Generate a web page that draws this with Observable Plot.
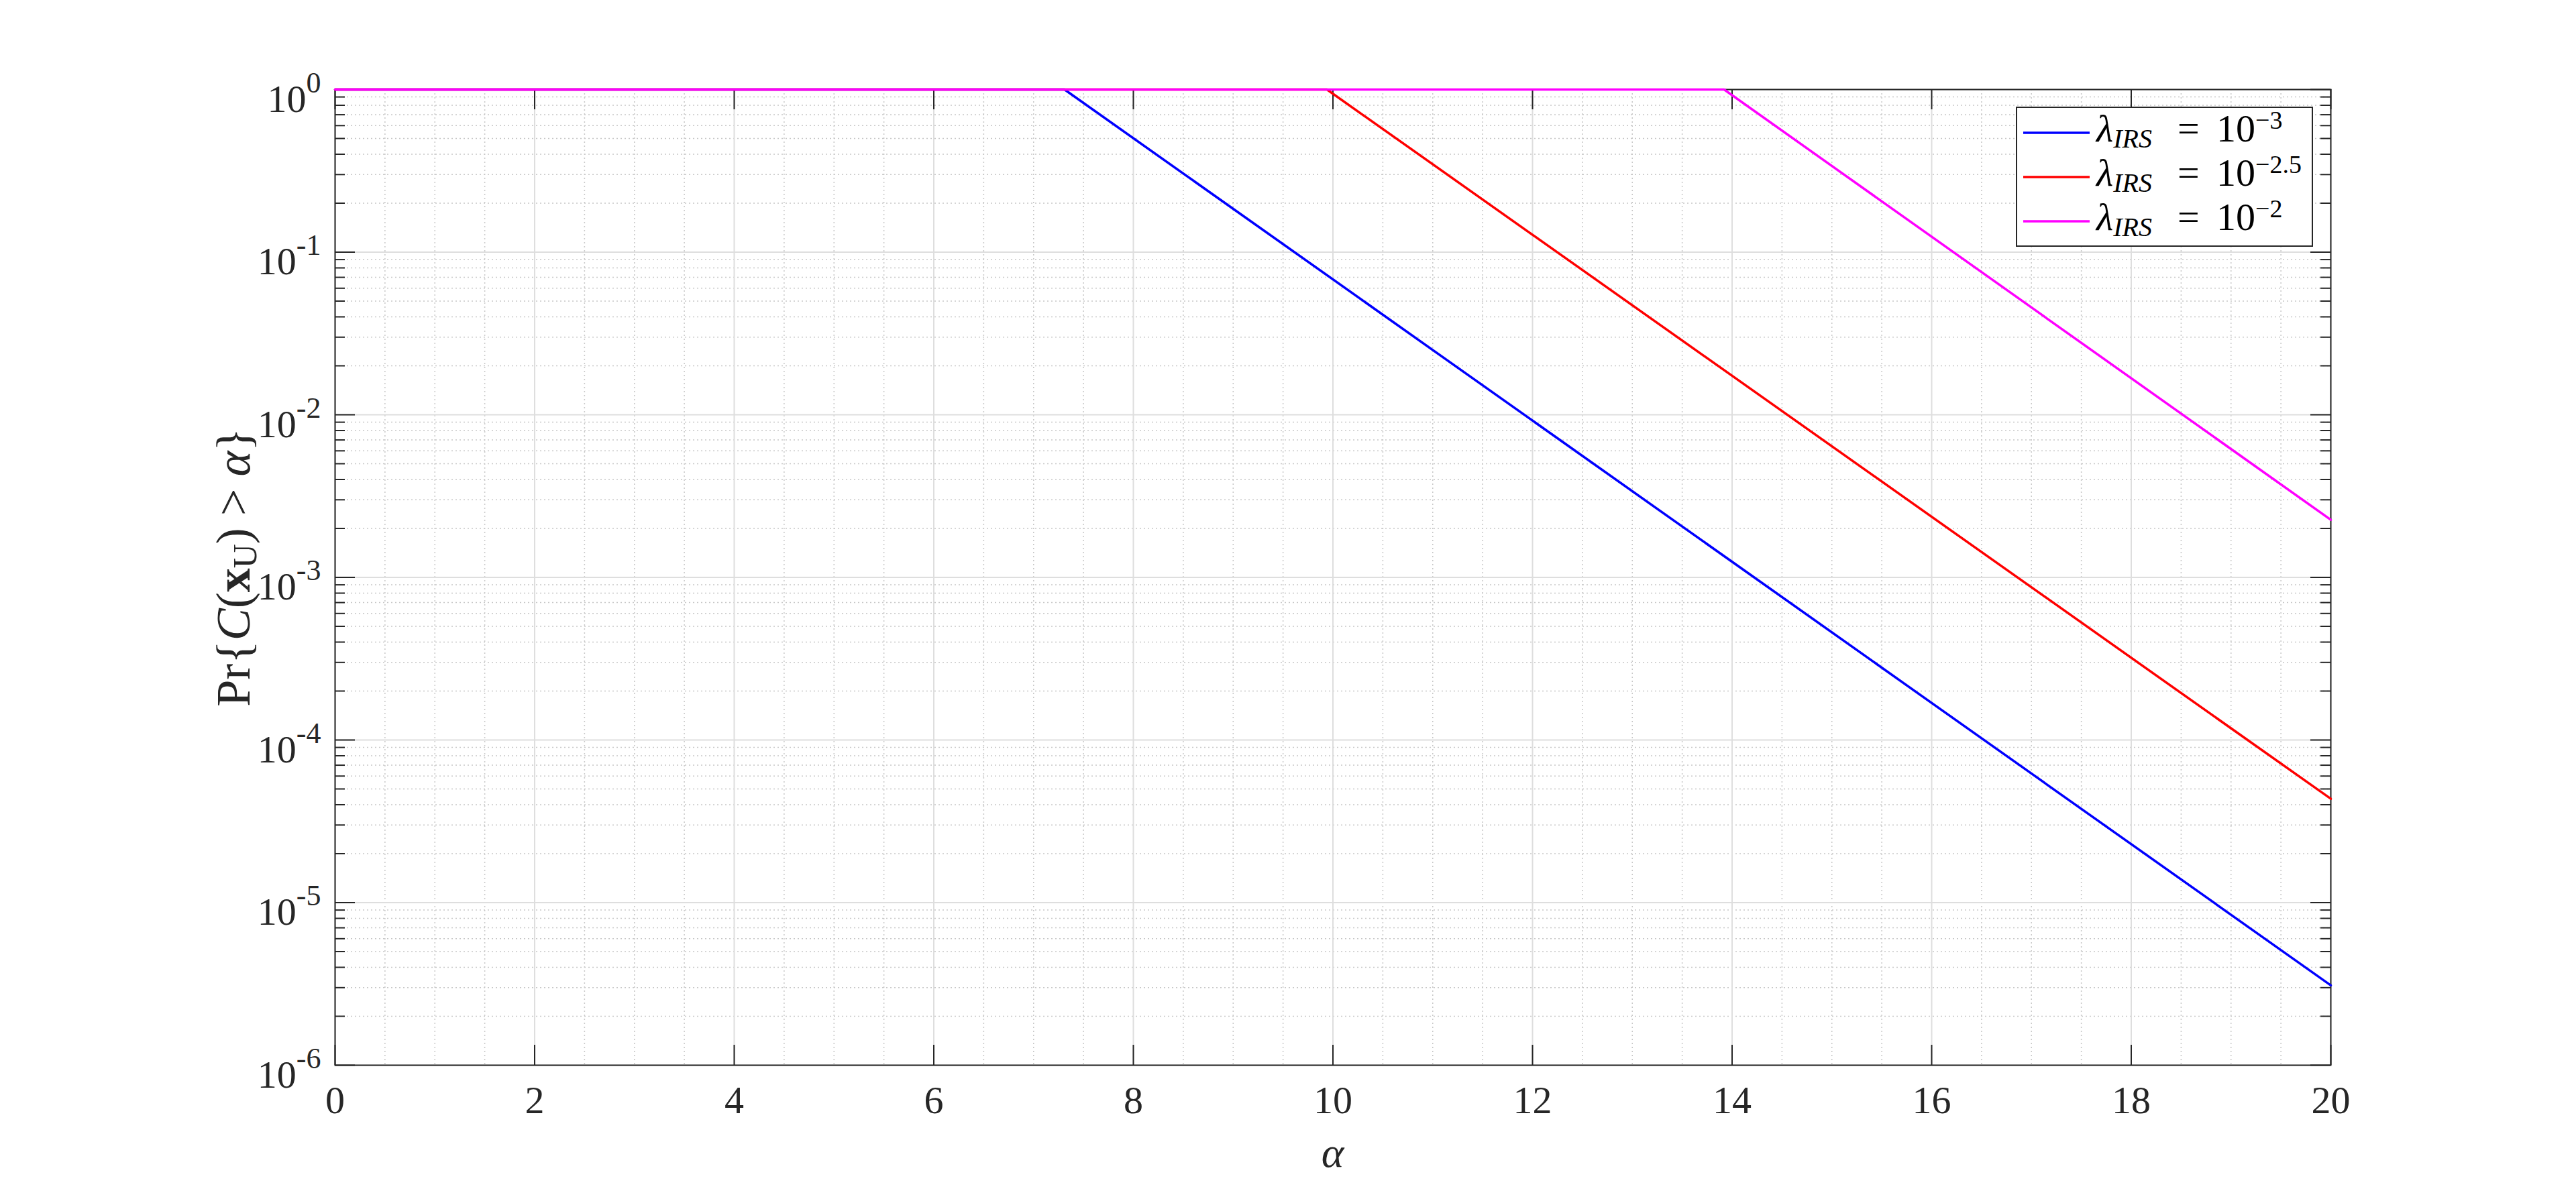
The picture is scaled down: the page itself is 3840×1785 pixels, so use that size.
<!DOCTYPE html>
<html>
<head>
<meta charset="utf-8">
<script src="https://cdn.jsdelivr.net/npm/d3@7"></script>
<script src="https://cdn.jsdelivr.net/npm/@observablehq/plot@0.6"></script>
<style>
  html, body { margin: 0; padding: 0; background: #ffffff; }
  #chart { position: relative; width: 3840px; height: 1785px; }
</style>
</head>
<body>
<div id="chart"></div>
<script>
// ---- data ----
const seriesNames = ["-3", "-2.5", "-2"];           // exponent of lambda_IRS
const seriesColors = ["#0000ff", "#ff0000", "#ff00ff"];
const blueAlpha = [0, 7.31, 20];
const blueProb = [1, 1, 3.1e-6];
const redAlpha = [0, 9.94, 20];
const redProb = [1, 1, 4.35e-5];
const magentaAlpha = [0, 13.92, 20];
const magentaProb = [1, 1, 2.26e-3];

// ---- ticks ----
const xMajorTicks = [0, 2, 4, 6, 8, 10, 12, 14, 16, 18, 20];
const xMinorGrid = [0.5, 1, 1.5, 2.5, 3, 3.5, 4.5, 5, 5.5, 6.5, 7, 7.5, 8.5, 9, 9.5,
  10.5, 11, 11.5, 12.5, 13, 13.5, 14.5, 15, 15.5, 16.5, 17, 17.5, 18.5, 19, 19.5];
const yMajorTicks = [1e-6, 1e-5, 1e-4, 1e-3, 1e-2, 1e-1, 1];
const yMinorMultipliers = [2, 3, 4, 5, 6, 7, 8, 9];
const yMinorTicks = yMajorTicks.slice(0, -1).flatMap(d => yMinorMultipliers.map(m => m * d));

const alphas = [blueAlpha, redAlpha, magentaAlpha];
const probs = [blueProb, redProb, magentaProb];
const rows = seriesNames.flatMap((name, i) =>
  alphas[i].map((a, j) => ({series: name, alpha: a, prob: probs[i][j]})));

// ---- layout ----
const W = 3840, H = 1785;
const mL = 499, mR = W - 3474, mT = 133, mB = H - 1588;
const plotW = W - mL - mR, plotH = H - mT - mB;
const axisColor = "#262626";
const serif = "'Liberation Serif', 'Times New Roman', serif";

const chart = Plot.plot({
  width: W, height: H,
  marginLeft: mL, marginRight: mR, marginTop: mT, marginBottom: mB,
  style: {fontFamily: serif, background: "#ffffff", color: axisColor},
  x: {domain: [0, 20]},
  y: {type: "log", domain: [1e-6, 1]},
  color: {domain: seriesNames, range: seriesColors},
  marks: [
    // minor grid (dotted)
    Plot.ruleX(xMinorGrid, {x: d => d, stroke: "#c8c8c8", strokeWidth: 1.5, strokeDasharray: "2,4"}),
    Plot.ruleY(yMinorTicks, {y: d => d, stroke: "#c8c8c8", strokeWidth: 1.5, strokeDasharray: "2,4"}),
    // major grid (solid)
    Plot.ruleX(xMajorTicks, {x: d => d, stroke: "#dedede", strokeWidth: 2}),
    Plot.ruleY(yMajorTicks, {y: d => d, stroke: "#dedede", strokeWidth: 2}),
    // inward ticks
    Plot.tickX(xMajorTicks, {x: d => d, insetTop: plotH - 30, stroke: axisColor, strokeWidth: 2}),
    Plot.tickX(xMajorTicks, {x: d => d, insetBottom: plotH - 30, stroke: axisColor, strokeWidth: 2}),
    Plot.tickY(yMajorTicks, {y: d => d, insetRight: plotW - 30, stroke: axisColor, strokeWidth: 2}),
    Plot.tickY(yMajorTicks, {y: d => d, insetLeft: plotW - 30, stroke: axisColor, strokeWidth: 2}),
    Plot.tickY(yMinorTicks, {y: d => d, insetRight: plotW - 15, stroke: axisColor, strokeWidth: 2}),
    Plot.tickY(yMinorTicks, {y: d => d, insetLeft: plotW - 15, stroke: axisColor, strokeWidth: 2}),
    Plot.frame({stroke: axisColor, strokeWidth: 2}),
    // axes labels
    Plot.axisX({ticks: xMajorTicks, tickSize: 0, tickPadding: 30, fontSize: 58, label: null, tickFormat: d => String(d)}),
    Plot.axisY({ticks: yMajorTicks, tickSize: 0, tickPadding: 21, fontSize: 58, label: null,
      tickFormat: d => "10^" + Math.round(Math.log10(d))}),
    // data
    Plot.line(rows, {x: "alpha", y: "prob", z: "series", stroke: "series", strokeWidth: 3.5})
  ]
});

const svg = d3.select(chart);

// superscript y tick labels
svg.selectAll('g[aria-label="y-axis tick label"] text').each(function () {
  const t = d3.select(this);
  const s = t.text();
  const exp = s.split("^")[1];
  t.text(null).attr("y", 33).attr("dy", null).attr("fill", axisColor);
  t.append("tspan").text("10");
  t.append("tspan").attr("dy", -29).attr("font-size", 44).text(exp);
});
svg.selectAll('g[aria-label="x-axis tick label"] text').attr("fill", axisColor);

// x axis title
svg.append("text")
  .attr("x", mL + plotW / 2).attr("y", 1740)
  .attr("text-anchor", "middle")
  .attr("font-size", 64).attr("font-style", "italic").attr("fill", axisColor)
  .attr("font-family", serif)
  .text("α");

// y axis title
const yl = svg.append("text")
  .attr("transform", `translate(372,846) rotate(-90)`)
  .attr("text-anchor", "middle")
  .attr("font-size", 72).attr("fill", axisColor)
  .attr("font-family", serif);
yl.append("tspan").text("Pr{");
yl.append("tspan").attr("font-style", "italic").text("C");
yl.append("tspan").text("(");
yl.append("tspan").attr("font-weight", "bold").text("x");
yl.append("tspan").attr("font-size", 50).attr("dy", 10).text("U");
yl.append("tspan").attr("dy", -10).text(") > ");
yl.append("tspan").attr("font-style", "italic").text("α");
yl.append("tspan").text("}");

// legend
const lg = svg.append("g").attr("font-family", serif).attr("fill", "#000").attr("text-anchor", "start");
lg.append("rect").attr("x", 3006).attr("y", 160).attr("width", 441).attr("height", 207)
  .attr("fill", "#ffffff").attr("stroke", axisColor).attr("stroke-width", 2);
seriesNames.forEach((name, i) => {
  const ry = 198 + i * 66;
  lg.append("line").attr("x1", 3016).attr("x2", 3115).attr("y1", ry).attr("y2", ry)
    .attr("stroke", seriesColors[i]).attr("stroke-width", 3.5);
  const t = lg.append("text").attr("x", 3125).attr("y", ry + 13).attr("font-size", 58).attr("text-anchor", "start");
  t.append("tspan").attr("font-style", "italic").text("λ");
  t.append("tspan").attr("font-style", "italic").attr("font-size", 40).attr("dy", 9).text("IRS");
  t.append("tspan").attr("dy", -9).attr("x", 3246).text("=");
  t.append("tspan").attr("x", 3304).text("10");
  t.append("tspan").attr("font-size", 38).attr("dy", -19).text("−" + name.slice(1));
});

document.getElementById("chart").appendChild(chart);
</script>
</body>
</html>
